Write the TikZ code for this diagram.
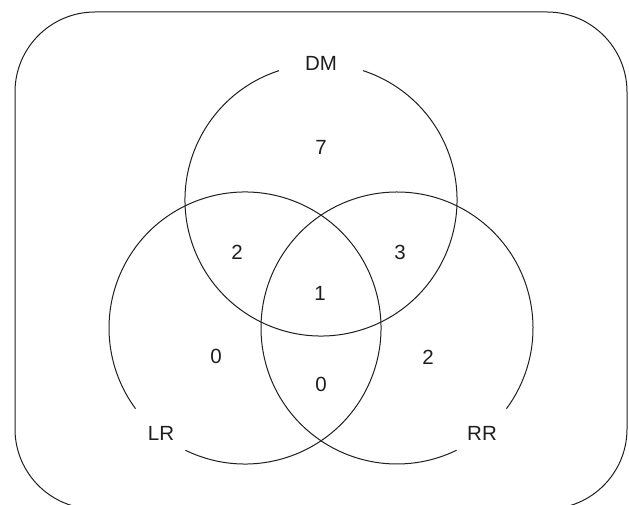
\documentclass[tikz,border=0pt]{standalone}
\usepackage{fontspec}
\setmainfont{Liberation Sans}
\usepackage{tikz}
\usetikzlibrary{positioning}
\definecolor{vennline}{RGB}{30,30,30}

\begin{document}
\begin{tikzpicture}[x=1pt, y=1pt, line width=1pt,
  lbl/.style={text=vennline, inner sep=0pt, font=\fontsize{20.5}{24}\selectfont},
  ring/.style={draw=vennline, line width=1pt}]
 \useasboundingbox (0,0) rectangle (629,505);
 \clip (0,0) rectangle (629,505);
 \draw[ring, rounded corners=80pt] (15,-4) rectangle (627,493);
 % circle centres
 \coordinate (dmc) at (321,305);
 \coordinate (lrc) at (245,177);
 \coordinate (rrc) at (397,177);
 \draw[ring] (dmc) ++(108:136) arc[start angle=108, end angle=432, radius=136];
 \draw[ring] (lrc) ++(244:136) arc[start angle=244, end angle=576.4, radius=136];
 \draw[ring] (rrc) ++(323.6:136) arc[start angle=323.6, end angle=656, radius=136];
 % set names
 \node[lbl] (dm) at (321,442) {DM};
 \node[lbl] (lr) at (161,72) {LR};
 \node[lbl] (rr) at (482,72) {RR};
 % region counts
 \foreach \n/\x/\y/\v in {dmonly/321/358/7, dmlr/237/253/2, dmrr/400/253/3, all/320/212/1,
                          lronly/216/149/0, rronly/428/148/2, lrrr/321/121/0}{
   \node[lbl] (\n) at (\x,\y) {\v};
 }
\end{tikzpicture}
\end{document}
